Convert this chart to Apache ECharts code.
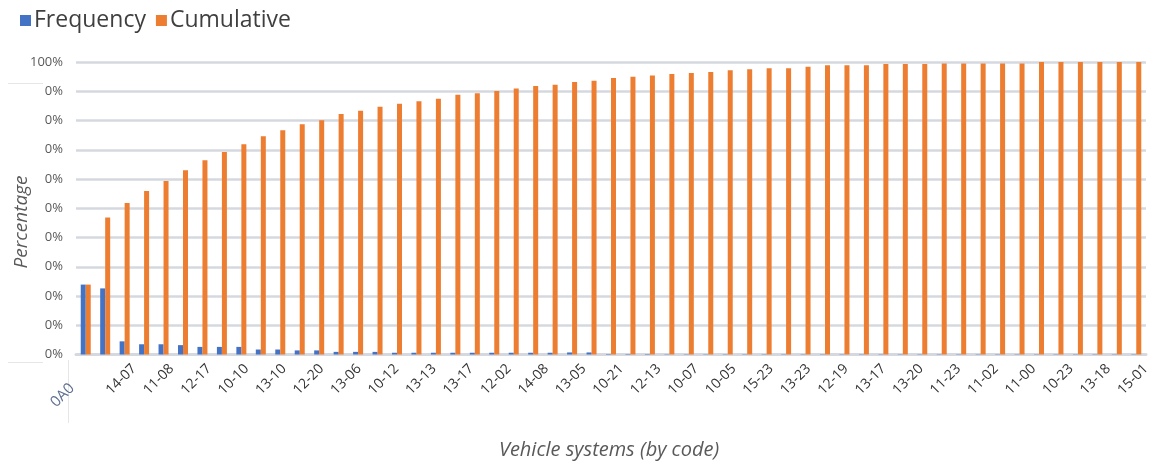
<!DOCTYPE html>
<html>
<head>
<meta charset="utf-8">
<script src="https://cdn.jsdelivr.net/npm/echarts@6/dist/echarts.min.js"></script>
<style>
  html, body { margin: 0; padding: 0; background: #ffffff; }
  #chart { width: 1153px; height: 466px; }
</style>
</head>
<body>
<div id="chart"></div>
<script>
// Vehicle systems ranked by share of occurrences (Pareto order)
const systemRanks = [
  1, 2, 3, 4, 5, 6, 7, 8, 9, 10, 11, 12, 13, 14, 15, 16, 17, 18, 19, 20,
  21, 22, 23, 24, 25, 26, 27, 28, 29, 30, 31, 32, 33, 34, 35, 36, 37, 38, 39, 40,
  41, 42, 43, 44, 45, 46, 47, 48, 49, 50, 51, 52, 53, 54, 55
];

// System codes printed along the category axis
const codeLabels = [
  '0A0', '14-07', '11-08', '12-17', '10-10', '13-10', '12-20', '13-06', '10-12', '13-13',
  '13-17', '12-02', '14-08', '13-05', '10-21', '12-13', '10-07', '10-05', '15-23', '13-23',
  '12-19', '13-17', '13-20', '11-23', '11-02', '11-00', '10-23', '13-18', '15-01'
];

// Share of each system (%)
const frequency = [
  23.9, 22.6, 4.5, 3.5, 3.5, 3.2, 2.6, 2.6, 2.6, 1.7,
  1.7, 1.4, 1.4, 0.9, 0.9, 0.9, 0.6, 0.6, 0.6, 0.6,
  0.6, 0.6, 0.6, 0.6, 0.6, 0.7, 0.7, 0.15, 0.15, 0.15,
  0.1, 0.1, 0.1, 0.1, 0.1, 0.1, 0.1, 0.1, 0.1, 0.1,
  0.1, 0.1, 0.1, 0.1, 0.1, 0.1, 0.1, 0.1, 0.1, 0.1,
  0.1, 0.1, 0.1, 0.1, 0.1
];

// Running total of the shares (%)
const cumulative = [
  23.9, 46.8, 51.8, 55.9, 59.3, 63.0, 66.4, 69.2, 71.9, 74.6,
  76.7, 78.7, 80.1, 82.2, 83.3, 84.7, 85.7, 86.6, 87.4, 88.8,
  89.3, 90.1, 90.9, 91.8, 92.2, 93.2, 93.6, 94.5, 95.0, 95.4,
  95.9, 96.2, 96.6, 97.2, 97.5, 97.9, 97.9, 98.4, 98.9, 98.9,
  98.9, 99.3, 99.3, 99.3, 99.5, 99.5, 99.5, 99.5, 99.5, 100,
  100, 100, 100, 100, 100
];

// Percentage tick texts, bottom to top
const percentTicks = ['0%', '0%', '0%', '0%', '0%', '0%', '0%', '0%', '0%', '0%', '100%'];

const FONT = '"Open Sans", "Noto Sans", sans-serif';
const PLOT_LEFT = 76, PLOT_RIGHT = 1146, PLOT_TOP = 62, PLOT_BOTTOM = 354.5;
const W = 1153, H = 466;
const halfCat = (PLOT_RIGHT - PLOT_LEFT) / systemRanks.length / 2;
const labelShift = 11;

const chart = echarts.init(document.getElementById('chart'), null, { renderer: 'canvas' });

chart.setOption({
  backgroundColor: '#ffffff',
  animation: false,
  textStyle: { fontFamily: FONT },
  legend: {
    left: 15, top: 4,
    icon: 'rect', itemWidth: 11, itemHeight: 11, itemGap: 10,
    textStyle: { fontSize: 23, color: '#3f3f3f', fontFamily: FONT, padding: [0, 0, 0, -2] },
    data: ['Frequency', 'Cumulative']
  },
  grid: [
    { left: PLOT_LEFT, right: W - PLOT_RIGHT, top: PLOT_TOP, bottom: H - PLOT_BOTTOM, containLabel: false },
    { left: PLOT_LEFT + halfCat + labelShift, right: W - PLOT_RIGHT + halfCat - labelShift,
      top: PLOT_TOP, bottom: H - PLOT_BOTTOM, containLabel: false }
  ],
  xAxis: [
    {
      type: 'category', gridIndex: 0, data: systemRanks,
      axisLine: { show: true, lineStyle: { color: '#d5d8de', width: 3 } },
      axisTick: { show: false }, axisLabel: { show: false }, splitLine: { show: false }
    },
    {
      type: 'category', gridIndex: 1, data: codeLabels, boundaryGap: false,
      axisLine: { show: false }, axisTick: { show: false }, splitLine: { show: false },
      axisLabel: {
        interval: 0, rotate: 45, margin: 12, fontSize: 14, color: '#333333', fontFamily: FONT,
        formatter: (v, i) => (i === 0 ? '' : v)
      }
    }
  ],
  yAxis: [
    {
      type: 'value', gridIndex: 0, min: 0, max: 100, interval: 10,
      axisLine: { show: false }, axisTick: { show: false },
      splitLine: { lineStyle: { color: '#d5d8de', width: 2.5 } },
      axisLabel: {
        margin: 13, fontSize: 13, color: '#595959', fontFamily: FONT,
        formatter: (v) => percentTicks[Math.round(v / 10)]
      }
    },
    { type: 'value', gridIndex: 1, min: 0, max: 100, show: false }
  ],
  series: [
    {
      name: 'Frequency', type: 'bar', xAxisIndex: 0, yAxisIndex: 0,
      data: frequency, barWidth: 5, barGap: '0%',
      itemStyle: { color: '#4472C4' }
    },
    {
      name: 'Cumulative', type: 'bar', xAxisIndex: 0, yAxisIndex: 0,
      data: cumulative, barWidth: 5, barGap: '0%',
      itemStyle: { color: '#ED7D31' }
    }
  ],
  graphic: [
    // faint panel edges around the axis area
    { type: 'line', silent: true, shape: { x1: 8, y1: 83.5, x2: 43, y2: 83.5 }, style: { stroke: '#e6e6e6', lineWidth: 1 } },
    { type: 'line', silent: true, shape: { x1: 8, y1: 362.5, x2: 43, y2: 362.5 }, style: { stroke: '#e6e6e6', lineWidth: 1 } },
    { type: 'line', silent: true, shape: { x1: 68.5, y1: 360, x2: 68.5, y2: 423 }, style: { stroke: '#e6e6e6', lineWidth: 1 } },
    // first code label, partly hidden behind the label panel
    {
      type: 'text', silent: true, x: 72, y: 386, rotation: Math.PI / 4,
      style: { text: codeLabels[0], fill: '#5f6f8f', font: '15px ' + FONT, textAlign: 'right', textVerticalAlign: 'middle' }
    },
    {
      type: 'text', silent: true, x: 22, y: 222, rotation: Math.PI / 2,
      style: { text: 'Percentage', fill: '#595959', font: 'italic 19px ' + FONT, textAlign: 'center', textVerticalAlign: 'middle' }
    },
    {
      type: 'text', silent: true, x: 609, y: 450,
      style: { text: 'Vehicle systems (by code)', fill: '#595959', font: 'italic 20px ' + FONT, textAlign: 'center', textVerticalAlign: 'middle' }
    }
  ]
});
</script>
</body>
</html>
